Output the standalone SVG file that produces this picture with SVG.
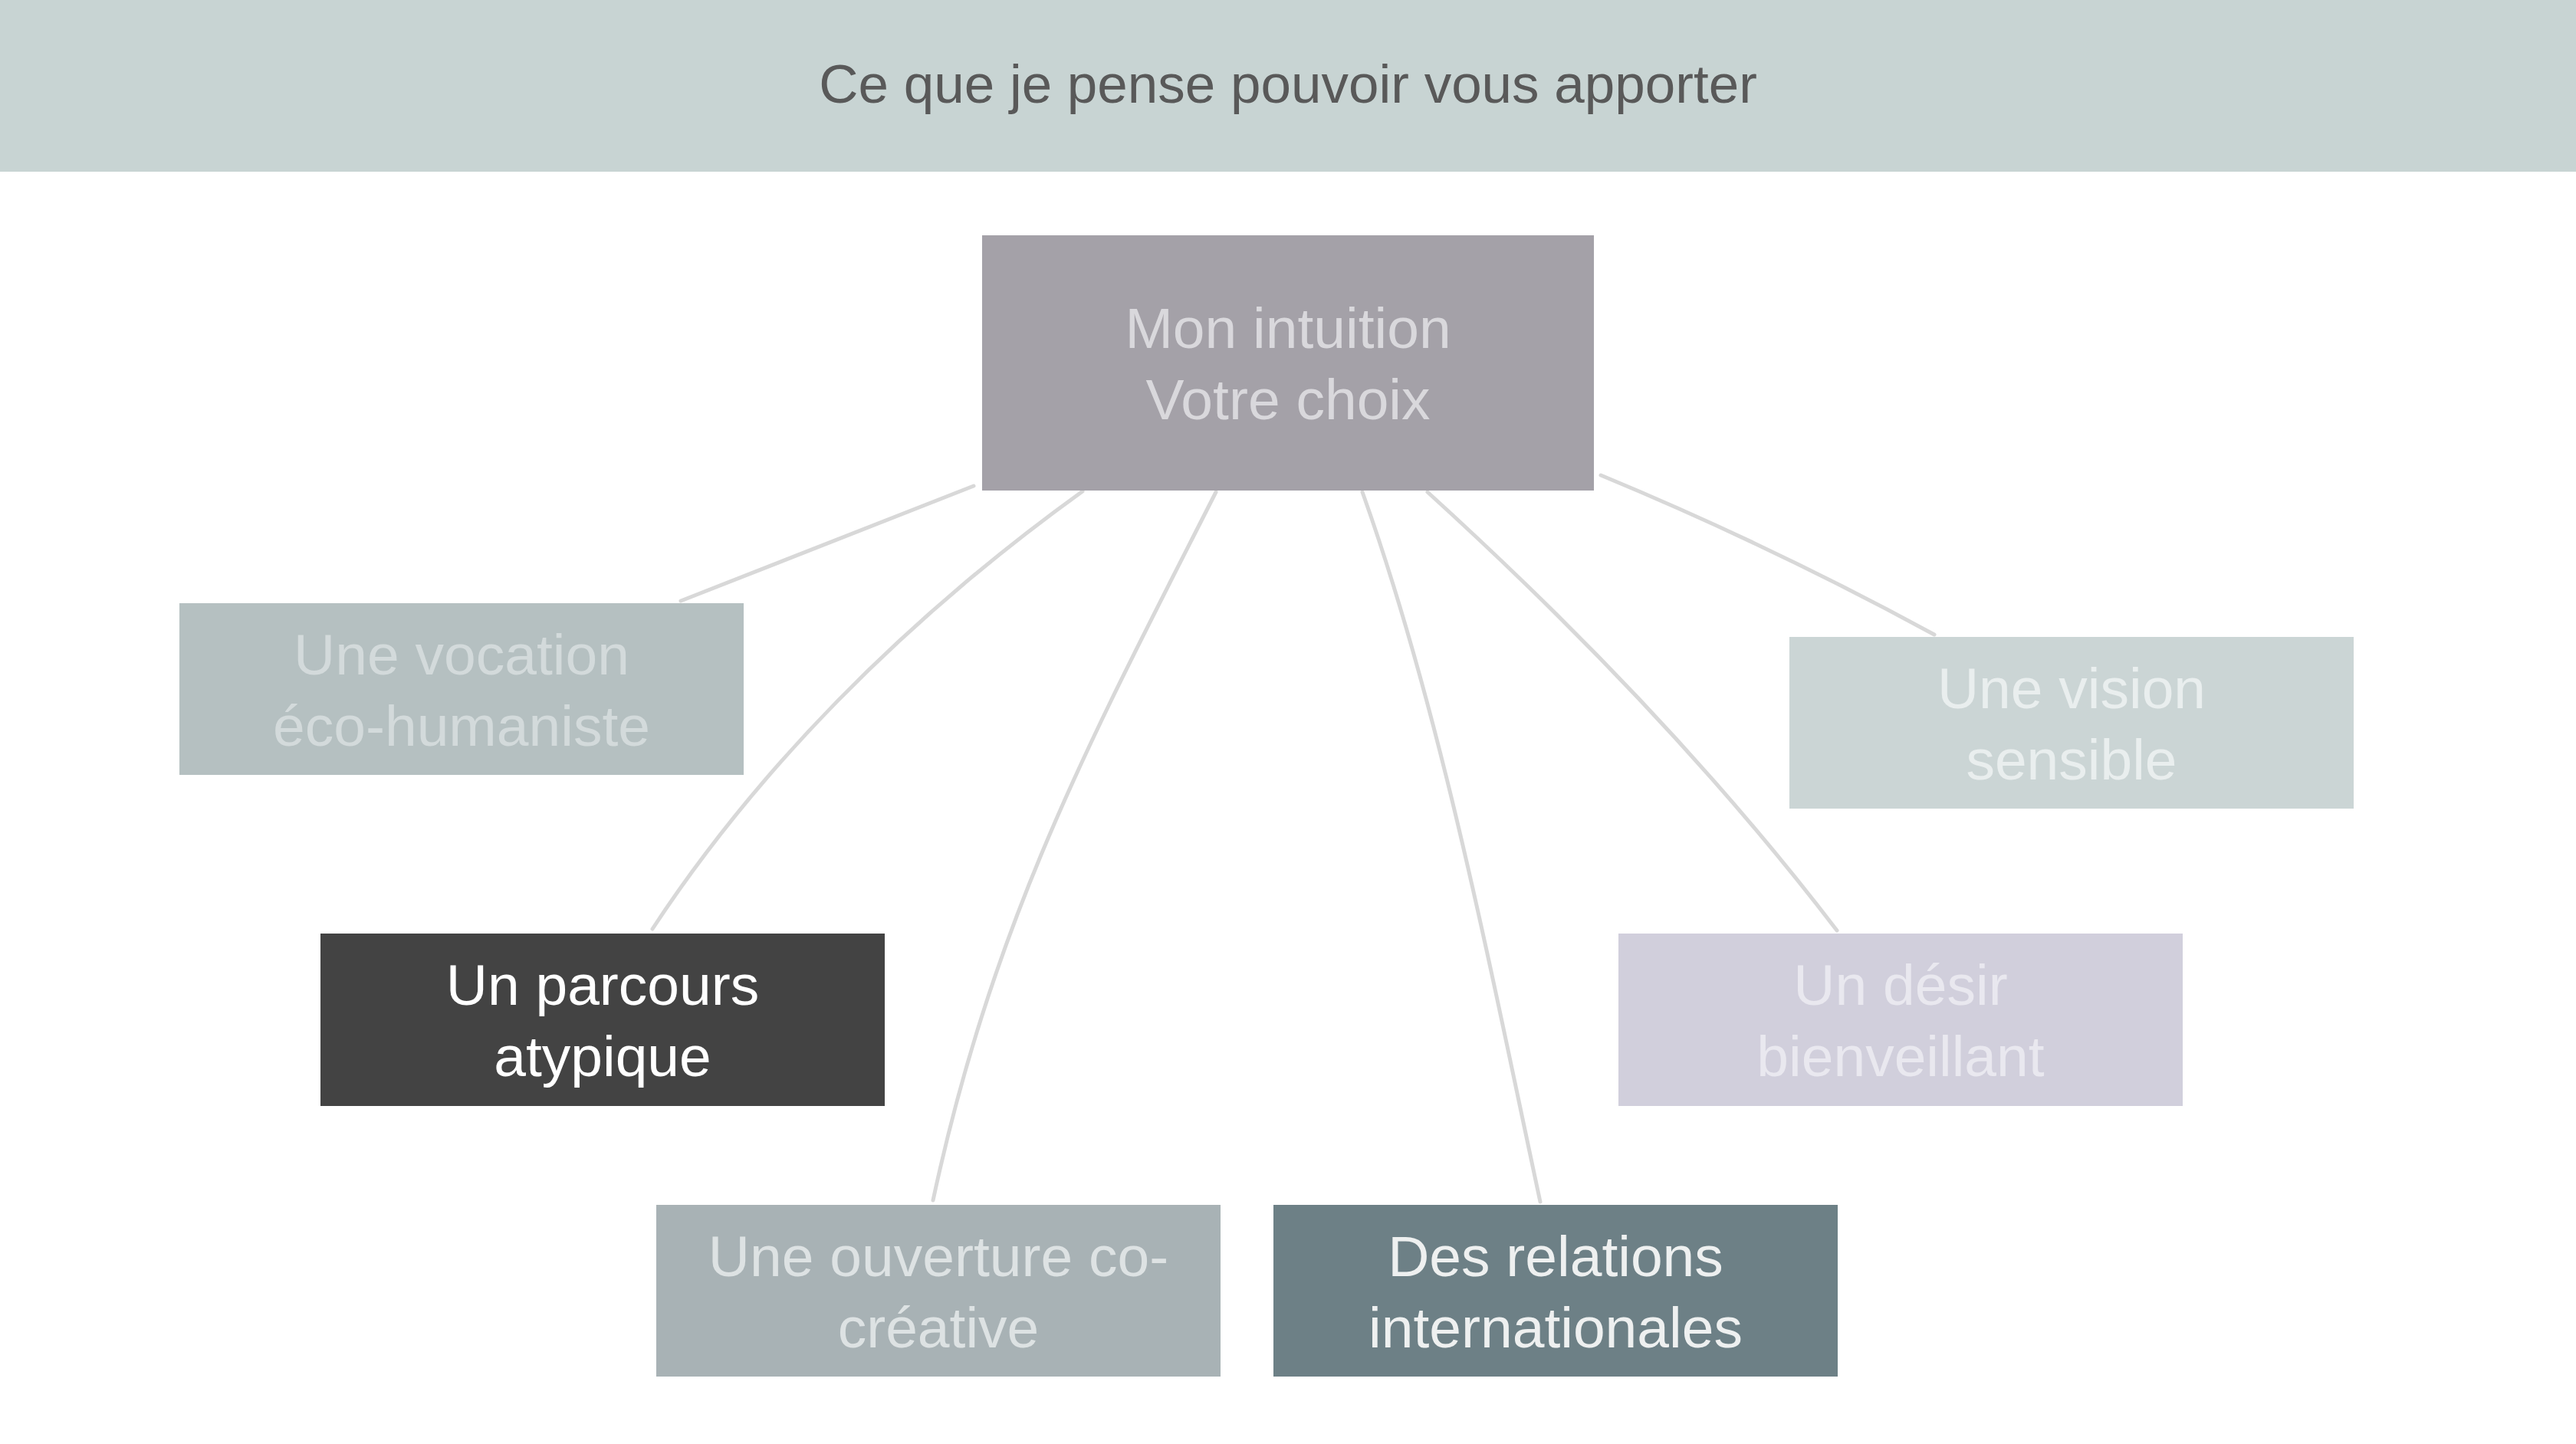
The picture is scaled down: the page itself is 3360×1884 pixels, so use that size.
<svg xmlns="http://www.w3.org/2000/svg" width="3360" height="1884" viewBox="0 0 3360 1884">
<style>
text{font-family:"Liberation Sans","DejaVu Sans",Arial,sans-serif;text-anchor:middle}
.t{font-size:75px}
.title{font-size:71px;fill:#595959}
.c{fill:none;stroke:#d8d8d8;stroke-width:5;stroke-linecap:round}
</style>
<rect x="0" y="0" width="3360" height="1884" fill="#ffffff"/>
<g id="header">
<rect x="0" y="0" width="3360" height="224" fill="#c8d4d3"/>
<text class="title" x="1680" y="134">Ce que je pense pouvoir vous apporter</text>
</g>
<g id="connectors">
<path class="c" d="M1270,634 Q1085,706 888,784"/>
<path class="c" d="M1412,641 C1175,812 985,1008 851,1212"/>
<path class="c" d="M1586,642 C1428,954 1297,1194 1217,1566"/>
<path class="c" d="M1777,642 C1880,930 1945,1270 2009,1568"/>
<path class="c" d="M1862,642 C2060,822 2240,1010 2396,1214"/>
<path class="c" d="M2088,620 Q2310,712 2523,828"/>
</g>
<g id="center">
<rect x="1281" y="307" width="798" height="333" fill="#a4a1a8"/>
<text class="t" x="1680" y="454" fill="#d9d8dc">Mon intuition</text>
<text class="t" x="1680" y="547" fill="#d9d8dc">Votre choix</text>
</g>
<g id="vocation">
<rect x="234" y="787" width="736" height="224" fill="#b5c0c1"/>
<text class="t" x="602" y="880" fill="#d3dadb">Une vocation</text>
<text class="t" x="602" y="973" fill="#d3dadb">éco-humaniste</text>
</g>
<g id="parcours">
<rect x="418" y="1218" width="736" height="225" fill="#434343"/>
<text class="t" x="786" y="1311" fill="#ffffff">Un parcours</text>
<text class="t" x="786" y="1404" fill="#ffffff">atypique</text>
</g>
<g id="ouverture">
<rect x="856" y="1572" width="736" height="224" fill="#a8b2b5"/>
<text class="t" x="1224" y="1665" fill="#dde2e3">Une ouverture co-</text>
<text class="t" x="1224" y="1758" fill="#dde2e3">créative</text>
</g>
<g id="relations">
<rect x="1661" y="1572" width="736" height="224" fill="#6d8086"/>
<text class="t" x="2029" y="1665" fill="#eef0f0">Des relations</text>
<text class="t" x="2029" y="1758" fill="#eef0f0">internationales</text>
</g>
<g id="desir">
<rect x="2111" y="1218" width="736" height="225" fill="#d1cfdc"/>
<text class="t" x="2479" y="1311" fill="#e9e8ef">Un désir</text>
<text class="t" x="2479" y="1404" fill="#e9e8ef">bienveillant</text>
</g>
<g id="vision">
<rect x="2334" y="831" width="736" height="224" fill="#cbd5d5"/>
<text class="t" x="2702" y="924" fill="#e9eeee">Une vision</text>
<text class="t" x="2702" y="1017" fill="#e9eeee">sensible</text>
</g>
</svg>
